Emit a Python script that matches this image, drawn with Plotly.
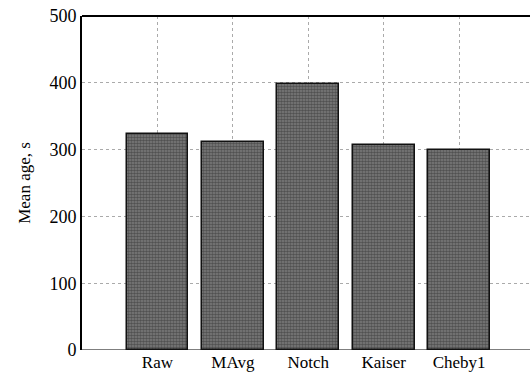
import plotly.graph_objects as go

# Mean age of each filtered series
methods = ["Raw", "MAvg", "Notch", "Kaiser", "Cheby1"]
mean_age = [323, 311, 398, 307, 300]
positions = [1, 2, 3, 4, 5]
y_ticks = [0, 100, 200, 300, 400, 500]

SERIF = "Liberation Serif"

fig = go.Figure()
fig.add_trace(go.Bar(
    x=positions,
    y=mean_age,
    width=0.82,
    marker=dict(
        color="#5e5e5e",
        line=dict(color="#111111", width=1.5),
        pattern=dict(shape=".", fgcolor="#262626", bgcolor="#7c7c7c", size=3, solidity=0.55),
    ),
    showlegend=False,
))

fig.update_layout(
    width=530, height=378,
    margin=dict(l=82, r=0, t=16, b=28),
    paper_bgcolor="white", plot_bgcolor="white",
    font=dict(family=SERIF, size=17, color="black"),
    bargap=0,
)
fig.update_xaxes(
    range=[0, 5.94],
    tickvals=positions, ticktext=methods,
    showgrid=True, gridcolor="#aaaaaa", griddash="dot", gridwidth=1,
    showline=False, zeroline=False, ticks="",
    tickfont=dict(family=SERIF, size=17, color="black"),
)
fig.update_yaxes(
    range=[0, 500],
    tickvals=y_ticks,
    showgrid=True, gridcolor="#aaaaaa", griddash="dot", gridwidth=1,
    showline=True, linecolor="black", linewidth=2, mirror=False,
    zeroline=False, ticks="",
    title=dict(text="Mean age, s", font=dict(family=SERIF, size=17), standoff=14),
    tickfont=dict(family=SERIF, size=18, color="black"),
)
# top frame line and baseline
fig.add_shape(type="line", xref="paper", yref="paper", x0=0, x1=1, y0=1, y1=1,
              line=dict(color="black", width=2))
fig.add_shape(type="line", xref="paper", yref="y", x0=0, x1=1, y0=0, y1=0,
              line=dict(color="#555555", width=1.5), layer="below")

fig.write_html("out.html")
